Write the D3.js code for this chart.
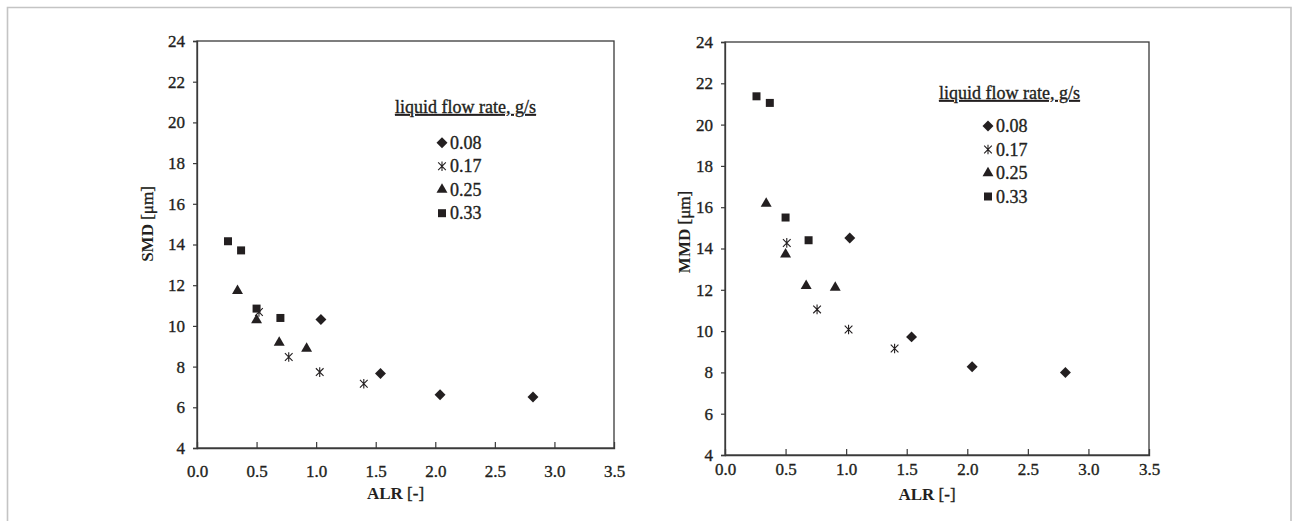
<!DOCTYPE html>
<html><head><meta charset="utf-8">
<script src="https://cdn.jsdelivr.net/npm/d3@7"></script>
<style>
html,body{margin:0;padding:0;background:#fff;}
.thick{stroke:#231f20;stroke-width:0.35px;}
</style></head>
<body><svg id="c" width="1292" height="521"></svg>
<script>
// ---- data ----
const seriesNames = ["0.08","0.17","0.25","0.33"];
const legendTitle = "liquid flow rate, g/s";
const xTicks = [0.0,0.5,1.0,1.5,2.0,2.5,3.0,3.5];
const yTicks = [4,6,8,10,12,14,16,18,20,22,24];

const smdX08 = [1.04,1.54,2.04,2.82], smdY08 = [10.31,7.66,6.62,6.51];
const smdX17 = [0.52,0.77,1.03,1.40], smdY17 = [10.68,8.47,7.73,7.16];
const smdX25 = [0.34,0.50,0.69,0.92], smdY25 = [11.72,10.28,9.18,8.88];
const smdX33 = [0.26,0.37,0.50,0.70], smdY33 = [14.16,13.71,10.85,10.39];

const mmdX08 = [1.03,1.54,2.04,2.81], mmdY08 = [14.51,9.72,8.27,8.00];
const mmdX17 = [0.51,0.76,1.02,1.40], mmdY17 = [14.27,11.05,10.08,9.16];
const mmdX25 = [0.34,0.50,0.67,0.91], mmdY25 = [16.18,13.72,12.19,12.11];
const mmdX33 = [0.26,0.37,0.50,0.69], mmdY33 = [21.37,21.05,15.50,14.40];

const FONT = "Liberation Serif, Times New Roman, serif";
const svg = d3.select("#c").attr("font-family", FONT);
const ink = "#231f20";

// outer frame (open at bottom)
svg.append("path").attr("d","M7.5,521 L7.5,7.5 L1291,7.5 L1291,521")
  .attr("fill","none").attr("stroke","#c4c4c4").attr("stroke-width",1.6);

// custom asterisk: vertical + X
const starPath = (cx,cy,r)=>`M${cx},${cy-r}L${cx},${cy+r}M${cx-r*0.8},${cy-r*0.8}L${cx+r*0.8},${cy+r*0.8}M${cx-r*0.8},${cy+r*0.8}L${cx+r*0.8},${cy-r*0.8}`;

function marker(g, type, cx, cy){
  if(type===1){
    g.append("path").attr("d",starPath(cx,cy,4.8)).attr("fill","none").attr("stroke",ink).attr("stroke-width",1.1);
  } else if(type===0){
    g.append("path").attr("d", d3.symbol(d3.symbolSquare, 60)()).attr("transform",`translate(${cx},${cy}) rotate(45)`).attr("fill",ink);
  } else {
    const sym = type===2 ? d3.symbolTriangle : d3.symbolSquare;
    const size = type===2 ? 52 : 64;
    g.append("path").attr("d", d3.symbol(sym, size)()).attr("transform",`translate(${cx},${cy})`).attr("fill",ink);
  }
}

function panel(cfg){
  const x = d3.scaleLinear().domain([0,3.5]).range([cfg.x0,cfg.x1]);
  const y = d3.scaleLinear().domain([4,24]).range([cfg.y0,cfg.y1]);
  const g = svg.append("g");
  // box
  g.append("rect").attr("x",cfg.x0).attr("y",cfg.y1).attr("width",cfg.x1-cfg.x0).attr("height",cfg.y0-cfg.y1)
    .attr("fill","none").attr("stroke","#3a3a3a").attr("stroke-width",1.3);
  // y axis (ticks outward)
  const ya = g.append("g").attr("transform",`translate(${cfg.x0},0)`)
    .call(d3.axisLeft(y).tickValues(yTicks).tickSize(4).tickPadding(8).tickFormat(d3.format("d")))
    .attr("font-family",FONT).attr("font-size",17);
  ya.select(".domain").attr("stroke","#3a3a3a").attr("stroke-width",1.3);
  ya.selectAll(".tick line").attr("stroke","#3a3a3a").attr("stroke-width",1.2);
  ya.selectAll(".tick text").attr("fill",ink).attr("class","thick");
  // x axis (ticks inward)
  const xa = g.append("g").attr("transform",`translate(0,${cfg.y0})`)
    .call(d3.axisBottom(x).tickValues(xTicks).tickSize(-6).tickPadding(cfg.xPad).tickFormat(d3.format(".1f")))
    .attr("font-family",FONT).attr("font-size",17);
  xa.select(".domain").attr("stroke","#3a3a3a").attr("stroke-width",1.3);
  xa.selectAll(".tick line").attr("stroke","#3a3a3a").attr("stroke-width",1.2)
    .attr("display",d=> (d===0||d===3.5)?"none":null);
  xa.selectAll(".tick text").attr("fill",ink).attr("class","thick");
  // axis titles
  const xt = g.append("text").attr("x",(cfg.x0+cfg.x1)/2 - 10).attr("y",cfg.xTitleY)
    .attr("text-anchor","middle").attr("font-size",17).attr("fill",ink);
  xt.append("tspan").attr("font-weight","bold").text("ALR");
  xt.append("tspan").attr("class","thick").text(" [-]");
  const yt = g.append("text").attr("transform",`translate(${cfg.yTitleX},${cfg.yTitleCY}) rotate(-90)`)
    .attr("text-anchor","middle").attr("font-size",17).attr("fill",ink);
  yt.append("tspan").attr("font-weight","bold").text(cfg.yName);
  yt.append("tspan").attr("class","thick").text(" [μm]");
  // data
  cfg.series.forEach((s,i)=>{
    s[0].forEach((xv,j)=> marker(g, i, x(xv), y(s[1][j])));
  });
  // legend
  g.append("text").attr("x",cfg.lx).attr("y",cfg.ly).attr("font-size",18).attr("fill",ink)
    .attr("class","thick").attr("text-decoration","underline").text(legendTitle);
  seriesNames.forEach((n,i)=>{
    const cy = cfg.lr0 + i*23.5;
    marker(g, i, cfg.mx, cy);
    g.append("text").attr("x",cfg.mx+8).attr("y",cy+6).attr("font-size",18).attr("fill",ink)
      .attr("class","thick").text(n);
  });
}

panel({x0:197,x1:614,y0:448,y1:41,xPad:17,xTitleY:499,yTitleX:153,yTitleCY:224,yName:"SMD",
  series:[[smdX08,smdY08],[smdX17,smdY17],[smdX25,smdY25],[smdX33,smdY33]],
  lx:395,ly:113,mx:442,lr0:142.7});
panel({x0:725,x1:1149,y0:455,y1:42,xPad:8,xTitleY:500,yTitleX:690,yTitleCY:232,yName:"MMD",
  series:[[mmdX08,mmdY08],[mmdX17,mmdY17],[mmdX25,mmdY25],[mmdX33,mmdY33]],
  lx:939,ly:99,mx:988,lr0:126});
</script></body></html>
